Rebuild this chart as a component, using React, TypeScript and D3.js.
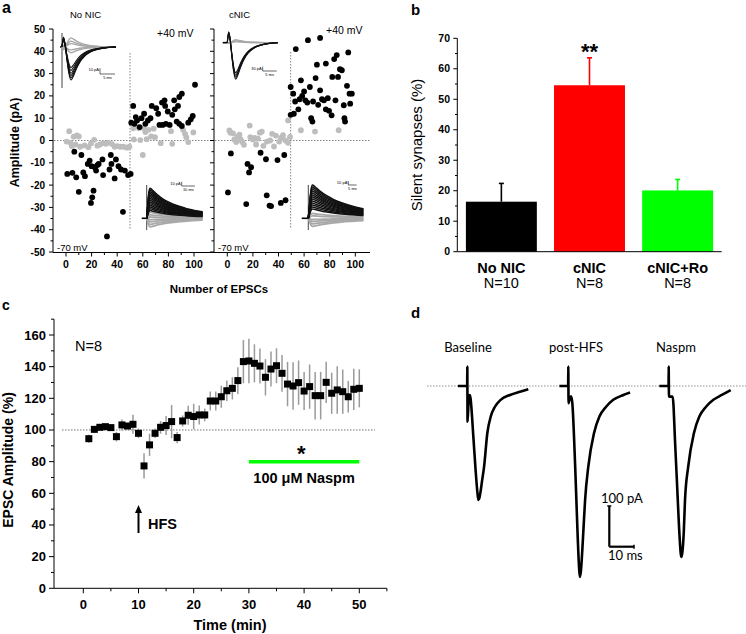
import React from "react";
import * as d3 from "d3";

// ---------------- Panel a data (Number of EPSCs, Amplitude pA) ----------------
const noNicNeg70Black: [number, number][] = [[1,-15],[5,-14.5],[6.5,-5],[8,-16.5],[10,-23],[12,-6.5],[13.5,-14.3],[14.8,-16],[17,-10.5],[18.5,-9],[19.5,-28],[20,-11.5],[20.5,-25.5],[21.5,-22.5],[22.5,-12],[23.5,-13.5],[24.5,-11],[25.5,-10.5],[28.5,-8.5],[29,-15.5],[32,-43],[34,-13],[35,-6.5],[35.5,-10.5],[38,-17],[39,-8.5],[41,-11.5],[43,-13],[44.5,-32],[46,-13.5],[48.5,-15.5],[50.5,-15]];
const noNicNeg70Gray: [number, number][] = [[0.5,-0.5],[2.5,4.2],[3.5,-1],[4.5,-2.5],[6,1.7],[7.5,-1.8],[8.5,2.3],[10,1.8],[11,-2.8],[14.5,-2.2],[17.5,-3],[19.5,-1.3],[22,0.3],[24.5,-2.3],[26.5,-1.8],[29,-1.2],[31,-1.5],[33,-1],[36,-1.6],[38,-2.8],[40,-2.5],[42.5,-2.8],[45,-2.8],[47.5,-3.2],[49.5,-2.8]];
const noNicPos40Black: [number, number][] = [[51,8],[52.5,15.5],[53.5,7.5],[54.5,10.5],[55.5,9],[57.5,6],[59,10],[61,12],[62,7.5],[64,9],[66,10],[67,15.5],[70.5,14.5],[72,12],[73,7],[75,17],[75.5,7],[77,18],[77.5,15.5],[78,7.5],[79.5,13],[81,7],[83,11.5],[84.5,18],[85,14],[86.5,8.5],[87.5,15.5],[88.5,19.5],[88.5,7.5],[90.5,21],[90.5,6.5],[95.5,8],[97.5,9.5],[99,11],[100.8,25]];
const noNicPos40Gray: [number, number][] = [[52.5,5.5],[53,0.5],[57,5.5],[58,0.2],[60,-6.5],[61,5.5],[62,3.8],[63,0.6],[64.5,4.8],[66.5,1.8],[68.5,5.3],[69.5,1.5],[74,-1.2],[82,4.2],[83,-1.5],[91.5,4.8],[93,3],[94,1.5],[95.5,-0.7],[99.5,3.6]];
const cNicNeg70Black: [number, number][] = [[0.5,-23.3],[2.8,-5.8],[14.8,-28.5],[15.8,-10.5],[17,-14.3],[18.6,-12],[26,-5.5],[30.2,-8.4],[30.8,-24.6],[33,-29.2],[34.2,-29.4],[39.2,-8.8],[41.8,-28],[44.5,-6.5],[45.5,-26.8]];
const cNicNeg70Gray: [number, number][] = [[1.6,4.5],[2.5,3.5],[4.5,3.2],[5.5,0.5],[7,-0.7],[8,1.7],[9.5,2.6],[10.5,0.5],[11.7,-0.7],[13,-1.9],[17.5,6.7],[18,1.5],[20,0.5],[21.5,1.2],[22.5,-1.8],[24,0.8],[25.5,3.5],[27,4],[28.2,-2.4],[31,-0.5],[33.5,0],[35,3],[36.5,-2.7],[38,2.2],[40.5,-0.5],[42,1.2],[43.5,2.4],[45.5,0],[47.5,-1],[49,1.6]];
const cNicPos40Black: [number, number][] = [[49.5,24],[49.5,11.5],[51.5,21],[52,12],[53.5,41],[53,17.5],[55.5,14],[56.5,18.5],[57.5,27],[58.5,20],[60,22],[61,18],[62.5,17],[63,45],[64.5,24],[65.5,10],[66.5,8.5],[67,17.5],[69,28],[70,34],[71,16],[72.5,46],[72.5,22.5],[74,18.5],[75.5,18],[77,14],[77,34.5],[78.5,19],[79.5,13.3],[81.5,11.3],[82,28.5],[83.5,36.5],[84.5,18],[85.5,38.3],[86.5,28.5],[88,32],[89.5,31.5],[91,15.8],[91.5,10],[92,8.5],[93.5,24.5],[94.5,39.5],[95.5,21],[96,16.5],[97.3,21]];
const cNicPos40Gray: [number, number][] = [[47.5,9],[57.5,4.6],[68.5,4],[87,4.6]];
const aYTicks = [-50, -40, -30, -20, -10, 0, 10, 20, 30, 40, 50];
const aXTicks = [0, 20, 40, 60, 80, 100];

// inset waveforms (time ms, normalized current)
const inwardShape: [number, number][] = [[0,0],[0.5,0.3],[1,0.1],[1.6,-0.35],[2.3,-0.8],[3,-1],[3.7,-0.9],[4.7,-0.68],[6,-0.45],[7.5,-0.28],[9.5,-0.15],[12,-0.07],[15,-0.02],[18,0]];
const outwardShape: [number, number][] = [[0,0],[0.8,0.45],[1.6,0.85],[2.5,1],[4,0.95],[7,0.82],[11,0.68],[15,0.57],[20,0.47],[25,0.39],[30,0.32],[33,0.29],[35,0.27],[42,0.22]];
const insetNoNicTopBlack = [58, 54, 50, 46, 41, 36];
const insetNoNicTopGray = [-16, -10, -6, 5, 10];
const insetCNicTopBlack = [254, 240, 226, 210];
const insetCNicTopGray = [-20, -12, -6];
const insetNoNicBotBlack = [70, 66, 62, 58, 54, 50, 46, 42, 38, 34, 30, 26, 22, 18];
const insetNoNicBotGray = [14, 8, 3, -3, -8, -14, -20];
const insetCNicBotBlack = [83, 78, 73, 68, 63, 58, 53, 48, 43, 38, 33, 28, 23];
const insetCNicBotGray = [12, 6, -3, -8, -14, -20];

// ---------------- Panel b data ----------------
const bCategories = ["No NIC", "cNIC", "cNIC+Ro"];
const bNs = ["N=10", "N=8", "N=8"];
const bValues = [16.4, 54.6, 20.1];
const bErrors = [6.0, 9.0, 3.6];
const bColors = ["#000000", "#ff0000", "#00ff00"];
const bYTicks = [0, 10, 20, 30, 40, 50, 60, 70];

// ---------------- Panel c data ----------------
const cTimes = [1,2,3,4,5,6,7,8,9,10,11,12,13,14,15,16,17,18,19,20,21,22,23,24,25,26,27,28,29,30,31,32,33,34,35,36,37,38,39,40,41,42,43,44,45,46,47,48,49,50];
const cAmplitudes = [94.5,100.4,101.7,102.1,101.5,95.8,103.2,102.5,103.6,97.9,77.3,90.6,97.9,101.7,102.8,105.3,95.2,105.7,109.3,108.5,109.5,109.5,118.3,118.3,121,124.8,126.3,131.2,143.2,143.6,142.1,140.4,133.3,138.5,140.6,135.8,129,127.8,129.9,124.6,127.4,121.7,121.7,130.1,123.2,125.3,124.2,121,125.7,126.3];
const cErrors = [2.5,2,1.5,1.5,2,3,3.5,2,6,3,8,7,3,4,6,10.5,3.5,3.5,6,8,6,4,6,6,7,6.5,7,8.5,13.6,14,12,11,11.5,11,11,11.6,14,15,14,12,14,15,15,13,13,15,14,10,13,12];
const cYTicks = [0, 20, 40, 60, 80, 100, 120, 140, 160];
const cXTicks = [0, 10, 20, 30, 40, 50];

// ---------------- Panel d data (time ms from stimulus, current pA) ----------------
const dLabels = ["Baseline", "post-HFS", "Naspm"];
const dBaselineTrace: [number, number][] = [[-3.8,0],[-0.05,0],[0,48],[0.1,-88],[0.6,-30],[1.0,-22],[1.3,-30],[2.4,-120],[3.4,-210],[4.1,-262],[4.5,-280],[4.9,-275],[5.3,-262],[6,-232],[6.8,-198],[8.1,-116],[9.5,-75],[11.2,-51],[13.5,-34],[17.3,-22],[21.3,-14],[24.7,-8]];
const dPostHfsTrace: [number, number][] = [[-3.6,0],[-0.05,0],[0,48],[0.1,-42],[0.6,-30],[1.1,-25],[1.6,-40],[2.8,-200],[3.8,-370],[4.4,-450],[4.7,-469],[5.1,-455],[5.7,-400],[6.2,-345],[6.8,-280],[8.1,-198],[10.4,-116],[12.6,-75],[15.3,-51],[18.2,-34],[22.3,-22],[25,-16]];
const dNaspmTrace: [number, number][] = [[-3.8,0],[-0.05,0],[0,48],[0.1,-26],[1.6,-26],[2.6,-140],[3.6,-270],[4.4,-370],[5.1,-420],[5.5,-410],[6.1,-360],[6.6,-280],[7.9,-198],[10.2,-116],[12.4,-75],[15.1,-51],[18.1,-34],[21.5,-22],[25.1,-10]];
const dTraces = [dBaselineTrace, dPostHfsTrace, dNaspmTrace];

const SANS = "'Liberation Sans', Arial, sans-serif";
const GRAY_DOT = "#bdbdbd";

type InsetProps = {
  x0: number; stim: number; baseY: number; msPx: number; pAPx: number;
  shape: [number, number][]; dur: number; black: number[]; gray: number[];
  artifact?: [number, number]; sw?: number;
};

function Inset(p: InsetProps) {
  const xs = d3.scaleLinear().domain([0, 1]).range([p.stim, p.stim + p.msPx]);
  const ys = d3.scaleLinear().domain([0, 1]).range([p.baseY, p.baseY - p.pAPx]);
  const pts = p.shape.filter((d) => d[0] <= p.dur);
  const sw = p.sw ?? 1;
  const mk = (amp: number) =>
    d3.line<[number, number]>().x((d) => xs(d[0])).y((d) => ys(d[1] * amp)).curve(d3.curveMonotoneX)(pts) || "";
  return (
    <g>
      <line x1={p.x0} x2={p.stim} y1={p.baseY} y2={p.baseY} stroke="#000" strokeWidth={1.6} />
      {p.artifact && (
        <line x1={p.stim} x2={p.stim} y1={p.artifact[0]} y2={p.artifact[1]} stroke="#444" strokeWidth={1} />
      )}
      {p.gray.map((a, i) => (
        <path key={"g" + i} d={mk(a)} fill="none" stroke="#a8a8a8" strokeWidth={sw + 0.3} />
      ))}
      {p.black.map((a, i) => (
        <path key={"b" + i} d={mk(a)} fill="none" stroke="#111" strokeWidth={sw} />
      ))}
    </g>
  );
}

function ScaleBarTiny({ x, y, h, w, top, bottom }: { x: number; y: number; h: number; w: number; top: string; bottom: string }) {
  return (
    <g>
      <line x1={x} x2={x} y1={y - h} y2={y} stroke="#000" strokeWidth={0.6} />
      <line x1={x} x2={x + w} y1={y} y2={y} stroke="#000" strokeWidth={0.6} />
      <text x={x - 1} y={y - h + 3} fontSize={4} textAnchor="end" fontFamily={SANS}>{top}</text>
      <text x={x + w / 2} y={y + 4.5} fontSize={4} textAnchor="middle" fontFamily={SANS}>{bottom}</text>
    </g>
  );
}

function PanelA() {
  const yA = d3.scaleLinear().domain([-50, 50]).range([252, 29]);
  const xL = d3.scaleLinear().domain([0, 100]).range([66, 194]);
  const xR = d3.scaleLinear().domain([0, 100]).range([227.3, 355.3]);
  const axisY = 252.5;
  const minorY = aYTicks.slice(0, -1).map((t) => t + 5);
  const minorX = aXTicks.slice(0, -1).map((t) => t + 10);
  const yAxis = (x: number, labels: boolean) => (
    <g>
      <line x1={x} x2={x} y1={yA(50)} y2={axisY} stroke="#000" strokeWidth={1} />
      {aYTicks.map((t) => (
        <g key={t}>
          <line x1={x - 4} x2={x} y1={yA(t)} y2={yA(t)} stroke="#000" strokeWidth={1} />
          {labels && (
            <text x={x - 8} y={yA(t) + 3.5} fontSize={10} fontWeight="bold" textAnchor="end" fontFamily={SANS}>{t}</text>
          )}
        </g>
      ))}
      {minorY.map((t) => (
        <line key={"m" + t} x1={x - 2.5} x2={x} y1={yA(t)} y2={yA(t)} stroke="#000" strokeWidth={1} />
      ))}
    </g>
  );
  const xAxis = (xs: d3.ScaleLinear<number, number>, x1: number, x2: number) => (
    <g>
      <line x1={x1} x2={x2} y1={axisY} y2={axisY} stroke="#000" strokeWidth={1} />
      {aXTicks.map((t) => (
        <g key={t}>
          <line x1={xs(t)} x2={xs(t)} y1={axisY} y2={axisY + 4} stroke="#000" strokeWidth={1} />
          <text x={xs(t)} y={axisY + 15} fontSize={10.5} fontWeight="bold" textAnchor="middle" fontFamily={SANS}>{t}</text>
        </g>
      ))}
      {minorX.map((t) => (
        <line key={"m" + t} x1={xs(t)} x2={xs(t)} y1={axisY} y2={axisY + 2.5} stroke="#000" strokeWidth={1} />
      ))}
    </g>
  );
  const dots = (data: [number, number][], xs: d3.ScaleLinear<number, number>, color: string, key: string) =>
    data.map((d, i) => <circle key={key + i} cx={xs(d[0])} cy={yA(d[1])} r={2.9} fill={color} />);

  return (
    <g>
      <text x={2} y={13} fontSize={16} fontWeight="bold" fontFamily={SANS}>a</text>
      <text x={70} y={18} fontSize={9.5} fontFamily={SANS}>No NIC</text>
      <text x={229} y={18} fontSize={9.5} fontFamily={SANS}>cNIC</text>
      <line x1={54} x2={213} y1={yA(0)} y2={yA(0)} stroke="#777" strokeWidth={0.9} strokeDasharray="1.5,1.5" />
      <line x1={215} x2={370} y1={yA(0)} y2={yA(0)} stroke="#777" strokeWidth={0.9} strokeDasharray="1.5,1.5" />
      <line x1={xL(50)} x2={xL(50)} y1={53} y2={230} stroke="#777" strokeWidth={0.9} strokeDasharray="1.5,1.5" />
      <line x1={xR(49.5)} x2={xR(49.5)} y1={52} y2={228} stroke="#777" strokeWidth={0.9} strokeDasharray="1.5,1.5" />
      <Inset x0={60} stim={62} baseY={47} msPx={3} pAPx={0.57} shape={inwardShape} dur={18} black={insetNoNicTopBlack} gray={insetNoNicTopGray} artifact={[33, 88]} sw={1.1} />
      <ScaleBarTiny x={100} y={74} h={5.7} w={15} top="10 pA" bottom="5 ms" />
      <Inset x0={222.7} stim={227.3} baseY={42.7} msPx={2.8} pAPx={0.144} shape={inwardShape} dur={18} black={insetCNicTopBlack} gray={insetCNicTopGray} sw={1.1} />
      <ScaleBarTiny x={262.7} y={71} h={4.3} w={14} top="30 pA" bottom="5 ms" />
      <Inset x0={141.7} stim={146.7} baseY={218.3} msPx={1.33} pAPx={0.43} shape={outwardShape} dur={42} black={insetNoNicBotBlack} gray={insetNoNicBotGray} artifact={[185, 230]} sw={1.5} />
      <ScaleBarTiny x={181.7} y={186} h={4.3} w={13.3} top="10 pA" bottom="10 ms" />
      <Inset x0={301.7} stim={308.3} baseY={218.3} msPx={1.67} pAPx={0.4} shape={outwardShape} dur={33} black={insetCNicBotBlack} gray={insetCNicBotGray} artifact={[185, 230]} sw={1.5} />
      <ScaleBarTiny x={348.3} y={185} h={4} w={8.3} top="10 pA" bottom="5 ms" />
      {dots(noNicNeg70Gray, xL, GRAY_DOT, "a")}
      {dots(noNicPos40Gray, xL, GRAY_DOT, "b")}
      {dots(noNicNeg70Black, xL, "#000", "c")}
      {dots(noNicPos40Black, xL, "#000", "d")}
      {dots(cNicNeg70Gray, xR, GRAY_DOT, "e")}
      {dots(cNicPos40Gray, xR, GRAY_DOT, "f")}
      {dots(cNicNeg70Black, xR, "#000", "g")}
      {dots(cNicPos40Black, xR, "#000", "h")}
      {yAxis(53, true)}
      {yAxis(214, false)}
      {xAxis(xL, 53, 214)}
      {xAxis(xR, 214, 370)}
      <text x={157} y={37} fontSize={10.5} fontFamily={SANS}>+40 mV</text>
      <text x={326} y={34} fontSize={10.5} fontFamily={SANS}>+40 mV</text>
      <text x={57} y={251} fontSize={9.5} fontFamily={SANS}>-70 mV</text>
      <text x={218} y={251} fontSize={9.5} fontFamily={SANS}>-70 mV</text>
      <text transform={`translate(19,${yA(0) + 2}) rotate(-90)`} fontSize={12.5} fontWeight="bold" textAnchor="middle" fontFamily={SANS}>Amplitude (pA)</text>
      <text x={219} y={293} fontSize={11.5} fontWeight="bold" textAnchor="middle" fontFamily={SANS}>Number of EPSCs</text>
    </g>
  );
}

function PanelB() {
  const y = d3.scaleLinear().domain([0, 70]).range([251.7, 38.3]);
  const x = d3.scaleBand<string>().domain(bCategories).range([457.3, 721.7]).paddingInner(0.195).paddingOuter(0.0975);
  const minor = bYTicks.slice(0, -1).map((t) => t + 5);
  return (
    <g>
      <text x={411} y={15} fontSize={15} fontWeight="bold" fontFamily={SANS}>b</text>
      {bCategories.map((c, i) => {
        const cx = (x(c) || 0) + x.bandwidth() / 2;
        return (
          <g key={c}>
            <line x1={cx} x2={cx} y1={y(bValues[i])} y2={y(bValues[i] + bErrors[i])} stroke={bColors[i]} strokeWidth={1.6} />
            <line x1={cx - 2.5} x2={cx + 2.5} y1={y(bValues[i] + bErrors[i])} y2={y(bValues[i] + bErrors[i])} stroke={bColors[i]} strokeWidth={1.6} />
            <rect x={x(c)} y={y(bValues[i])} width={x.bandwidth()} height={y(0) - y(bValues[i])} fill={bColors[i]} />
            <text x={cx} y={273} fontSize={14.5} fontWeight="bold" textAnchor="middle" fontFamily={SANS}>{c}</text>
            <text x={cx} y={288} fontSize={14.5} textAnchor="middle" fontFamily={SANS}>{bNs[i]}</text>
          </g>
        );
      })}
      <text x={(x("cNIC") || 0) + x.bandwidth() / 2} y={59} fontSize={22} fontWeight="bold" textAnchor="middle" fontFamily={SANS}>**</text>
      <line x1={457.3} x2={457.3} y1={y(70)} y2={y(0)} stroke="#000" strokeWidth={1} />
      <line x1={457.3} x2={721.7} y1={y(0)} y2={y(0)} stroke="#000" strokeWidth={1} />
      {bYTicks.map((t) => (
        <g key={t}>
          <line x1={453.3} x2={457.3} y1={y(t)} y2={y(t)} stroke="#000" strokeWidth={1} />
          <text x={450} y={y(t) + 3.7} fontSize={10.5} fontWeight="bold" textAnchor="end" fontFamily={SANS}>{t}</text>
        </g>
      ))}
      {minor.map((t) => (
        <line key={"m" + t} x1={455} x2={457.3} y1={y(t)} y2={y(t)} stroke="#000" strokeWidth={1} />
      ))}
      <text transform={`translate(422,${(y(0) + y(70)) / 2}) rotate(-90)`} fontSize={15} textAnchor="middle" fontFamily={SANS}>Silent synapses (%)</text>
    </g>
  );
}

function PanelC() {
  const x = d3.scaleLinear().domain([0, 50]).range([83.3, 359.3]);
  const y = d3.scaleLinear().domain([0, 160]).range([588.3, 335]);
  const minorY = cYTicks.map((t) => t + 10);
  const minorX = cXTicks.map((t) => t + 5);
  const sq = 7;
  return (
    <g>
      <text x={2} y={310} fontSize={14} fontWeight="bold" fontFamily={SANS}>c</text>
      <text x={75} y={351} fontSize={14.5} fontFamily={SANS}>N=8</text>
      <line x1={62} x2={375} y1={y(100)} y2={y(100)} stroke="#666" strokeWidth={0.9} strokeDasharray="1.5,1.5" />
      {cTimes.map((t, i) => (
        <line key={"e" + t} x1={x(t)} x2={x(t)} y1={y(cAmplitudes[i] - cErrors[i])} y2={y(cAmplitudes[i] + cErrors[i])} stroke="#9a9a9a" strokeWidth={1.5} />
      ))}
      {cTimes.map((t, i) => (
        <rect key={"s" + t} x={x(t) - sq / 2} y={y(cAmplitudes[i]) - sq / 2} width={sq} height={sq} fill="#000" />
      ))}
      <line x1={x(30)} x2={x(50)} y1={y(80)} y2={y(80)} stroke="#00ff00" strokeWidth={3.5} />
      <text x={x(39.5)} y={461} fontSize={22} fontWeight="bold" textAnchor="middle" fontFamily={SANS}>*</text>
      <text x={x(40)} y={483} fontSize={14.5} fontWeight="bold" textAnchor="middle" fontFamily={SANS}>100 μM Naspm</text>
      <line x1={x(10)} x2={x(10)} y1={533} y2={511} stroke="#000" strokeWidth={2} />
      <path d={`M${x(10) - 3.5},${513} L${x(10)},${505} L${x(10) + 3.5},${513} Z`} fill="#000" />
      <text x={148} y={529} fontSize={14.5} fontWeight="bold" fontFamily={SANS}>HFS</text>
      <line x1={54} x2={54} y1={y(170)} y2={y(0)} stroke="#000" strokeWidth={1} />
      <line x1={54} x2={x(55)} y1={y(0)} y2={y(0)} stroke="#000" strokeWidth={1} />
      {cYTicks.map((t) => (
        <g key={t}>
          <line x1={49} x2={54} y1={y(t)} y2={y(t)} stroke="#000" strokeWidth={1} />
          <text x={46} y={y(t) + 4.5} fontSize={13} fontWeight="bold" textAnchor="end" fontFamily={SANS}>{t}</text>
        </g>
      ))}
      {minorY.map((t) => (
        <line key={"m" + t} x1={51} x2={54} y1={y(t)} y2={y(t)} stroke="#000" strokeWidth={1} />
      ))}
      {cXTicks.map((t) => (
        <g key={t}>
          <line x1={x(t)} x2={x(t)} y1={y(0)} y2={y(0) + 5} stroke="#000" strokeWidth={1} />
          <text x={x(t)} y={609} fontSize={13} fontWeight="bold" textAnchor="middle" fontFamily={SANS}>{t}</text>
        </g>
      ))}
      {minorX.map((t) => (
        <line key={"mx" + t} x1={x(t)} x2={x(t)} y1={y(0)} y2={y(0) + 3} stroke="#000" strokeWidth={1} />
      ))}
      <text x={230} y={630} fontSize={14.5} fontWeight="bold" textAnchor="middle" fontFamily={SANS}>Time (min)</text>
      <text transform={`translate(13,460) rotate(-90)`} fontSize={14} fontWeight="bold" textAnchor="middle" fontFamily={SANS}>EPSC Amplitude (%)</text>
    </g>
  );
}

function PanelD() {
  const base = 386;
  const msPx = 2.47;
  const y = d3.scaleLinear().domain([0, -100]).range([base, base + 40.7]);
  const stims = [467.3, 568.3, 668.7];
  const labelX = [468, 576, 676];
  const font = "Lato, 'Open Sans', sans-serif";
  const barX = 609.3;
  const barY = 546.7;
  return (
    <g>
      <text x={411} y={318} fontSize={15} fontWeight="bold" fontFamily={SANS}>d</text>
      <line x1={427} x2={746} y1={base} y2={base} stroke="#888" strokeWidth={0.9} strokeDasharray="1.5,1.5" />
      {dTraces.map((tr, i) => {
        const x = d3.scaleLinear().domain([0, 1]).range([stims[i], stims[i] + msPx]);
        const d = d3.line<[number, number]>().x((p) => x(p[0])).y((p) => y(p[1])).curve(d3.curveMonotoneX)(tr) || "";
        return (
          <g key={i}>
            <path d={d} fill="none" stroke="#000" strokeWidth={2.6} strokeLinejoin="round" />
            <text x={labelX[i]} y={352} fontSize={13} textAnchor="middle" fontFamily={font}>{dLabels[i]}</text>
          </g>
        );
      })}
      <line x1={barX} x2={barX} y1={barY} y2={barY - 40.7} stroke="#000" strokeWidth={2.2} />
      <line x1={barX} x2={barX + 10 * msPx} y1={barY} y2={barY} stroke="#000" strokeWidth={2.2} />
      <line x1={barX - 2} x2={barX + 2} y1={barY - 40.7} y2={barY - 40.7} stroke="#000" strokeWidth={1.5} />
      <line x1={barX + 10 * msPx} x2={barX + 10 * msPx} y1={barY - 2} y2={barY + 2} stroke="#000" strokeWidth={1.5} />
      <text x={601} y={503} fontSize={13} fontFamily={font}>100 pA</text>
      <text x={608} y={560} fontSize={13} fontFamily={font}>10 ms</text>
    </g>
  );
}

export default function App() {
  return (
    <svg width={746} height={634} style={{ position: "absolute", left: 0, top: 0, background: "#fff" }} fontFamily={SANS}>
      <rect x={0} y={0} width={746} height={634} fill="#fff" />
      <PanelA />
      <PanelB />
      <PanelC />
      <PanelD />
    </svg>
  );
}
